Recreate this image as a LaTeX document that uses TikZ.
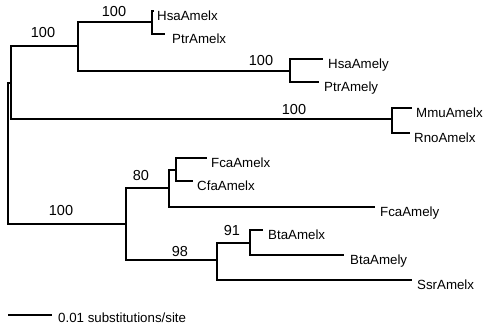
\documentclass[tikz,border=0pt]{standalone}
\usepackage{fontspec}
\setmainfont{Liberation Sans}
\begin{document}
\begin{tikzpicture}[x=1pt,y=-1pt,
  br/.style={line width=2.8pt, line cap=butt},
  leaf/.style={anchor=base west, inner sep=0pt, font=\fontsize{13.3}{15}\selectfont},
  supp/.style={anchor=center, inner sep=0pt, font=\fontsize{14.5}{16}\selectfont}]
\useasboundingbox (0,0) rectangle (485,332);
% internal nodes
\coordinate (R) at (8,153);
\coordinate (A) at (11,83);
\coordinate (C1) at (78,46);
\coordinate (HP1) at (152,22);
\coordinate (HP2) at (290,71);
\coordinate (MR) at (392,119);
\coordinate (B) at (126,224);
\coordinate (D) at (169,188);
\coordinate (D2) at (176,170);
\coordinate (E) at (217,260);
\coordinate (F) at (250,243);
% tips
\coordinate (t1) at (154,11);
\coordinate (t2) at (165,34);
\coordinate (t3) at (323,59);
\coordinate (t4) at (319,82);
\coordinate (t5) at (412,108);
\coordinate (t6) at (410,133);
\coordinate (t7) at (207,158);
\coordinate (t8) at (193,181);
\coordinate (t9) at (375,207);
\coordinate (t10) at (263,230);
\coordinate (t11) at (344,255);
\coordinate (t12) at (412,280);
% branches
\draw[br] (R) |- (A);
\draw[br] (R) |- (B);
\draw[br] (A) |- (C1);
\draw[br] (A) |- (MR);
\draw[br] (C1) |- (HP1);
\draw[br] (C1) |- (HP2);
\draw[br] (HP1) |- (t1);
\draw[br] (HP1) |- (t2);
\draw[br] (HP2) |- (t3);
\draw[br] (HP2) |- (t4);
\draw[br] (MR) |- (t5);
\draw[br] (MR) |- (t6);
\draw[br] (B) |- (D);
\draw[br] (B) |- (E);
\draw[br] (D) |- (D2);
\draw[br] (D) |- (t9);
\draw[br] (D2) |- (t7);
\draw[br] (D2) |- (t8);
\draw[br] (E) |- (F);
\draw[br] (E) |- (t12);
\draw[br] (F) |- (t10);
\draw[br] (F) |- (t11);
% leaf labels
\node[leaf] (l1) at ([xshift=3pt,yshift=-9pt]t1) {HsaAmelx};
\node[leaf] (l2) at ([xshift=7pt,yshift=-9pt]t2) {PtrAmelx};
\node[leaf] (l3) at ([xshift=5pt,yshift=-9pt]t3) {HsaAmely};
\node[leaf] (l4) at ([xshift=5pt,yshift=-9pt]t4) {PtrAmely};
\node[leaf] (l5) at ([xshift=4pt,yshift=-9pt]t5) {MmuAmelx};
\node[leaf] (l6) at ([xshift=4pt,yshift=-9pt]t6) {RnoAmelx};
\node[leaf] (l7) at ([xshift=4pt,yshift=-9pt]t7) {FcaAmelx};
\node[leaf] (l8) at ([xshift=4pt,yshift=-9pt]t8) {CfaAmelx};
\node[leaf] (l9) at ([xshift=5pt,yshift=-9pt]t9) {FcaAmely};
\node[leaf] (l10) at ([xshift=5pt,yshift=-9pt]t10) {BtaAmelx};
\node[leaf] (l11) at ([xshift=6pt,yshift=-9pt]t11) {BtaAmely};
\node[leaf] (l12) at ([xshift=5pt,yshift=-9pt]t12) {SsrAmelx};
% support values
\node[supp] (s1) at (43,33) {100};
\node[supp] (s2) at (114,11.5) {100};
\node[supp] (s3) at (261,61) {100};
\node[supp] (s4) at (294,110) {100};
\node[supp] (s5) at (61,211) {100};
\node[supp] (s6) at (141,176) {80};
\node[supp] (s7) at (180,251.5) {98};
\node[supp] (s8) at (232,230.5) {91};
% scale bar
\coordinate (sb1) at (8,315);
\coordinate (sb2) at (52,315);
\draw[br] (sb1) -- (sb2);
\node[leaf] (sbl) at (58,322) {0.01 substitutions/site};
\end{tikzpicture}
\end{document}
